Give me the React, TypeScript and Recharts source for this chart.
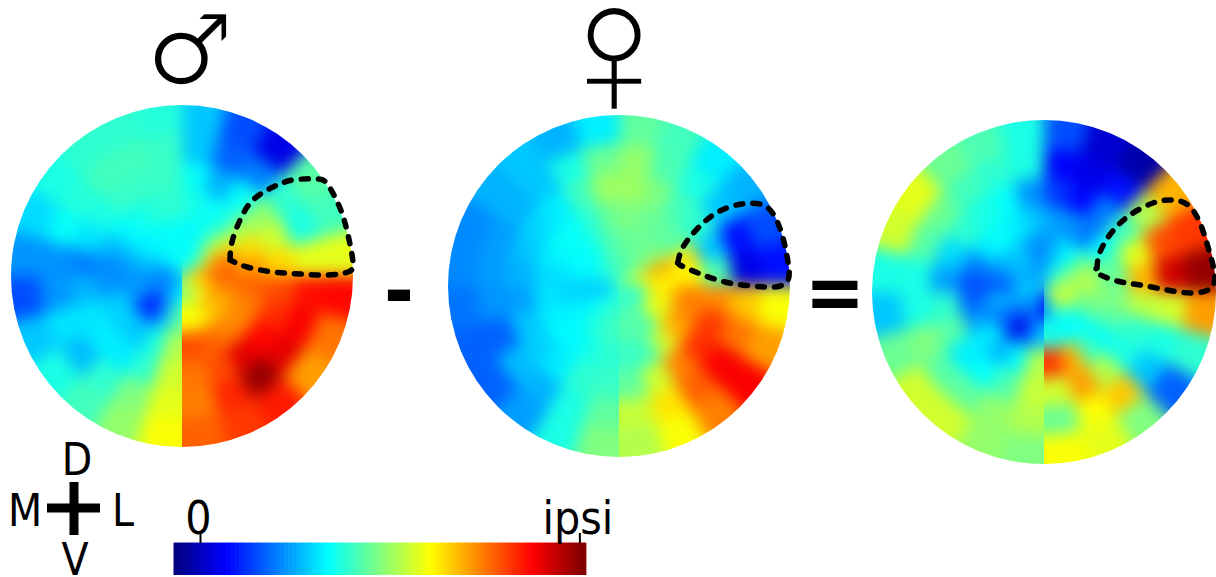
import { PieChart, Pie, Cell, BarChart, Bar, XAxis, YAxis, ComposedChart, Line } from 'recharts'

// each ring holds 24 wedges, clockwise from dorsal (top), innermost ring first. 0 = dark blue, 100 = dark red
const maleRing1 = [38, 38, 40, 45, 60, 72, 70, 65, 60, 58, 55, 50, 37, 32, 30, 25, 25, 25, 25, 28, 32, 37, 38, 38]
const maleRing2 = [37, 38, 45, 60, 75, 77, 77, 72, 70, 68, 62, 62, 47, 32, 18, 15, 27, 27, 28, 32, 36, 37, 38, 38]
const maleRing3 = [40, 38, 40, 55, 66, 72, 78, 75, 74, 75, 78, 80, 55, 40, 32, 33, 33, 27, 26, 30, 37, 39, 41, 42]
const maleRing4 = [38, 30, 38, 52, 58, 66, 80, 83, 87, 90, 80, 76, 58, 42, 36, 36, 35, 30, 25, 35, 40, 43, 43, 43]
const maleRing5 = [32, 22, 25, 42, 40, 60, 86, 88, 90, 98, 84, 75, 60, 50, 42, 31, 35, 27, 27, 38, 41, 44, 44, 43]
const maleRing6 = [32, 20, 10, 46, 44, 60, 87, 76, 72, 85, 82, 78, 62, 52, 44, 40, 32, 20, 27, 34, 40, 42, 42, 41]

const femaleRing1 = [42, 45, 48, 50, 58, 60, 42, 38, 42, 40, 50, 42, 42, 42, 40, 38, 33, 30, 32, 40, 36, 42, 44, 45]
const femaleRing2 = [47, 48, 48, 52, 72, 62, 65, 60, 60, 44, 47, 45, 44, 42, 40, 37, 36, 32, 35, 37, 38, 38, 42, 46]
const femaleRing3 = [50, 48, 47, 46, 65, 63, 75, 74, 70, 58, 44, 43, 42, 40, 37, 37, 36, 35, 34, 36, 38, 38, 42, 48]
const femaleRing4 = [53, 50, 44, 42, 32, 45, 74, 82, 83, 75, 58, 47, 43, 42, 36, 33, 32, 28, 30, 32, 34, 36, 44, 53]
const femaleRing5 = [52, 45, 40, 32, 14, 10, 68, 76, 88, 78, 65, 57, 47, 40, 30, 31, 22, 27, 28, 28, 30, 32, 40, 48]
const femaleRing6 = [47, 44, 36, 30, 20, 14, 62, 72, 88, 75, 62, 55, 50, 40, 28, 22, 22, 24, 26, 26, 30, 32, 30, 36]

const diffRing1 = [30, 38, 45, 50, 50, 55, 62, 60, 52, 45, 40, 25, 12, 25, 28, 28, 25, 30, 36, 33, 30, 28, 28, 28]
const diffRing2 = [28, 35, 38, 48, 55, 55, 50, 48, 38, 38, 38, 40, 32, 20, 10, 22, 25, 32, 20, 26, 30, 33, 30, 25]
const diffRing3 = [28, 27, 24, 38, 46, 48, 50, 46, 38, 44, 70, 82, 55, 37, 30, 36, 28, 22, 20, 25, 36, 38, 36, 32]
const diffRing4 = [18, 13, 25, 44, 60, 70, 56, 42, 40, 55, 72, 58, 57, 45, 38, 36, 46, 42, 28, 34, 42, 40, 38, 27]
const diffRing5 = [12, 10, 14, 55, 80, 92, 58, 40, 32, 68, 62, 48, 55, 52, 47, 46, 50, 40, 40, 46, 48, 44, 42, 40]
const diffRing6 = [20, 8, 4, 70, 82, 98, 72, 42, 22, 50, 60, 62, 50, 52, 58, 58, 48, 32, 40, 58, 60, 48, 45, 40]

const maleRings = [maleRing1, maleRing2, maleRing3, maleRing4, maleRing5, maleRing6]
const femaleRings = [femaleRing1, femaleRing2, femaleRing3, femaleRing4, femaleRing5, femaleRing6]
const diffRings = [diffRing1, diffRing2, diffRing3, diffRing4, diffRing5, diffRing6]

const colorLevels = [
  0, 1, 2, 3, 4, 5, 6, 7, 8, 9, 10, 11, 12, 13, 14, 15, 16, 17, 18, 19, 20, 21, 22, 23, 24, 25, 26, 27, 28, 29, 30, 31, 32, 33,
  34, 35, 36, 37, 38, 39, 40, 41, 42, 43, 44, 45, 46, 47, 48, 49, 50, 51, 52, 53, 54, 55, 56, 57, 58, 59, 60, 61, 62, 63, 64, 65, 66,
  67, 68, 69, 70, 71, 72, 73, 74, 75, 76, 77, 78, 79, 80, 81, 82, 83, 84, 85, 86, 87, 88, 89, 90, 91, 92, 93, 94, 95, 96, 97, 98, 99, 100
]
const colorTicks = [6, 99]

// dashed region outlines, page pixels
const maleRegion = [
  { x: 230, y: 260 }, { x: 232, y: 242 }, { x: 240, y: 220 }, { x: 253, y: 200 }, { x: 273, y: 187 }, { x: 293, y: 180 },
  { x: 317, y: 179 }, { x: 328, y: 185 }, { x: 340, y: 208 }, { x: 348, y: 235 }, { x: 353, y: 262 }, { x: 348, y: 272 },
  { x: 327, y: 275 }, { x: 300, y: 274 }, { x: 273, y: 272 }, { x: 247, y: 267 }, { x: 230, y: 260 }
]
const femaleRegion = [
  { x: 678, y: 262 }, { x: 683, y: 247 }, { x: 698, y: 228 }, { x: 718, y: 212 }, { x: 742, y: 204 }, { x: 763, y: 205 },
  { x: 775, y: 217 }, { x: 783, y: 238 }, { x: 788, y: 262 }, { x: 788, y: 280 }, { x: 775, y: 287 }, { x: 752, y: 286 },
  { x: 725, y: 282 }, { x: 698, y: 273 }, { x: 680, y: 265 }, { x: 678, y: 262 }
]
const diffRegion = [
  { x: 1097, y: 268 }, { x: 1100, y: 252 }, { x: 1112, y: 232 }, { x: 1130, y: 215 }, { x: 1153, y: 203 }, { x: 1172, y: 200 },
  { x: 1188, y: 205 }, { x: 1200, y: 223 }, { x: 1208, y: 247 }, { x: 1214, y: 270 }, { x: 1212, y: 287 }, { x: 1193, y: 293 },
  { x: 1167, y: 290 }, { x: 1140, y: 285 }, { x: 1117, y: 281 }, { x: 1097, y: 273 }, { x: 1097, y: 268 }
]

const FONT = '"DejaVu Sans Condensed", "DejaVu Sans", sans-serif'
const SYMBOL_FONT = '"Liberation Sans", sans-serif'

function jet(v: number) {
  const t = v / 100
  const ch = (d: number) => Math.round(255 * Math.max(0, Math.min(1, 1.5 - Math.abs(4 * t - d))))
  return `rgb(${ch(3)},${ch(2)},${ch(1)})`
}

// the seam below the centre is a real jump, so each half is blurred without the other's colours
function seamed(ring: number[], side: 'left' | 'right') {
  return ring.map((v, i) => {
    if (side === 'left' && i >= 6 && i < 12) return ring[12]
    if (side === 'right' && i >= 12 && i < 18) return ring[11]
    return v
  })
}

function HalfDisc({ rings, r, side }: { rings: number[][]; r: number; side: 'left' | 'right' }) {
  const bleed = 24
  const size = 2 * (r + bleed)
  const step = r / rings.length
  return (
    <div style={{ position: 'absolute', left: side === 'left' ? 0 : r, top: 0, width: r, height: 2 * r, overflow: 'hidden' }}>
      <div style={{ position: 'absolute', left: side === 'left' ? -bleed : -r - bleed, top: -bleed, filter: 'blur(8px)' }}>
        <PieChart width={size} height={size} margin={{ top: 0, right: 0, bottom: 0, left: 0 }}>
          {rings.map((ring, k) => (
            <Pie
              key={k}
              data={seamed(ring, side).map((heat) => ({ heat, span: 1 }))}
              dataKey="span"
              cx={r + bleed}
              cy={r + bleed}
              innerRadius={k * step}
              outerRadius={k === rings.length - 1 ? r + bleed : (k + 1) * step}
              startAngle={90}
              endAngle={-270}
              paddingAngle={0}
              isAnimationActive={false}
            >
              {ring.map((_, i) => {
                const c = jet(seamed(ring, side)[i])
                return <Cell key={i} fill={c} stroke={c} />
              })}
            </Pie>
          ))}
        </PieChart>
      </div>
    </div>
  )
}

function Disc({ rings, cx, cy, r }: { rings: number[][]; cx: number; cy: number; r: number }) {
  return (
    <div style={{ position: 'absolute', left: cx - r, top: cy - r, width: 2 * r, height: 2 * r, clipPath: 'circle(50%)' }}>
      <HalfDisc rings={rings} r={r} side="left" />
      <HalfDisc rings={rings} r={r} side="right" />
    </div>
  )
}

function ColorBar() {
  return (
    <div style={{ position: 'absolute', left: 134, top: 483 }}>
      <BarChart
        width={492}
        height={92}
        data={colorLevels.map((level) => ({ level, full: 1 }))}
        margin={{ top: 0, right: 40, bottom: 0, left: 40 }}
        barCategoryGap={0}
      >
        <XAxis
          dataKey="level"
          orientation="top"
          axisLine={false}
          ticks={colorTicks}
          interval={0}
          tickSize={10}
          tickLine={{ stroke: '#000', strokeWidth: 2 }}
          tickFormatter={(v) => (v === 6 ? '0' : 'ipsi')}
          tick={{ fill: '#000', fontSize: 46, fontFamily: FONT, dx: -2, dy: 3 }}
          height={60}
        />
        <YAxis hide domain={[0, 1]} />
        <Bar dataKey="full" isAnimationActive={false}>
          {colorLevels.map((level) => (
            <Cell key={level} fill={jet(level)} stroke={jet(level)} />
          ))}
        </Bar>
      </BarChart>
    </div>
  )
}

const labelStyle = { fontFamily: FONT, fill: '#000' }

export default function App() {
  const dash = { stroke: '#000', strokeWidth: 5.5, strokeDasharray: '7 10', strokeLinecap: 'round' as const }
  return (
    <div style={{ position: 'absolute', left: 0, top: 0, width: 1216, height: 577, background: '#fff', overflow: 'hidden' }}>
      <Disc rings={maleRings} cx={182} cy={276} r={171} />
      <Disc rings={femaleRings} cx={619} cy={286} r={171} />
      <Disc rings={diffRings} cx={1044} cy={292} r={172} />
      <ColorBar />
      <div style={{ position: 'absolute', left: 0, top: 0 }}>
        <ComposedChart width={1216} height={577} margin={{ top: 0, right: 0, bottom: 0, left: 0 }}>
          <XAxis type="number" dataKey="x" domain={[0, 1216]} hide />
          <YAxis type="number" dataKey="y" domain={[0, 577]} reversed hide width={0} />
          <Line data={maleRegion} dataKey="y" type="natural" dot={false} activeDot={false} isAnimationActive={false} {...dash} />
          <Line data={femaleRegion} dataKey="y" type="natural" dot={false} activeDot={false} isAnimationActive={false} {...dash} />
          <Line data={diffRegion} dataKey="y" type="natural" dot={false} activeDot={false} isAnimationActive={false} {...dash} />
          <line x1={47} y1={508} x2={100} y2={508} stroke="#000" strokeWidth={9} />
          <line x1={74} y1={482} x2={74} y2={535} stroke="#000" strokeWidth={9} />
          <text x={190} y={84} fontSize={98} textAnchor="middle" fontFamily='"DejaVu Sans", sans-serif' fill="#000" stroke="#fff" strokeWidth={2.2}>♂</text>
          <text x={614} y={117} fontSize={195} textAnchor="middle" fontFamily={SYMBOL_FONT} fill="#000" stroke="#fff" strokeWidth={1.8}>♀</text>
          <text x={399} y={318} fontSize={80} fontWeight="bold" textAnchor="middle" {...labelStyle}>-</text>
          <text x={835} y={320} fontSize={80} fontWeight="bold" textAnchor="middle" {...labelStyle}>=</text>
          <text x={77} y={475} fontSize={44} textAnchor="middle" {...labelStyle}>D</text>
          <text x={25} y={526} fontSize={44} textAnchor="middle" {...labelStyle}>M</text>
          <text x={123} y={526} fontSize={44} textAnchor="middle" {...labelStyle}>L</text>
          <text x={75} y={575} fontSize={44} textAnchor="middle" {...labelStyle}>V</text>
        </ComposedChart>
      </div>
    </div>
  )
}
